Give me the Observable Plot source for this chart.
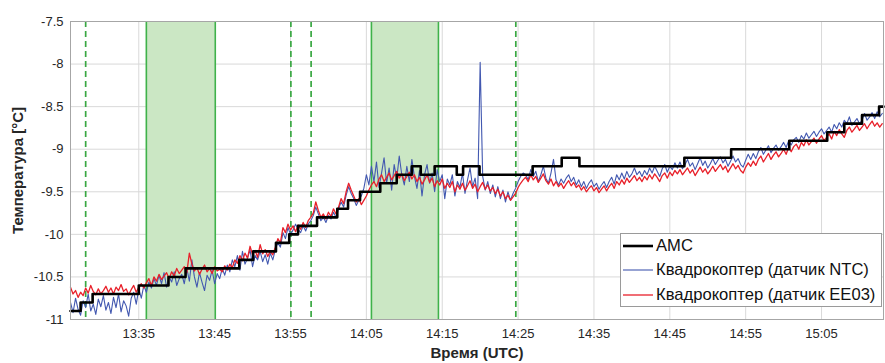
<!DOCTYPE html>
<html><head><meta charset="utf-8">
<script src="https://cdn.jsdelivr.net/npm/d3@7"></script>
<script src="https://cdn.jsdelivr.net/npm/@observablehq/plot@0.6"></script>
<style>
body{margin:0;background:#fff;font-family:"Liberation Sans",Arial,sans-serif;}
#wrap{position:relative;width:885px;height:363px;overflow:hidden}
#chart svg{display:block}
#chart g[aria-label="y-axis label"] text,#chart g[aria-label="x-axis label"] text{font-weight:bold;font-size:15px;fill:#262626}
.legend{position:absolute;left:620px;top:233px;width:262px;height:74px;border:1px solid #9a9a9a;background:#fff;box-sizing:border-box;padding:0 0 0 2px}
.row{display:flex;align-items:center;height:24.3px;font-size:16.6px;color:#111;white-space:nowrap}
.sw{width:30px;margin-right:3px}
</style>
</head><body>
<div id="wrap"><div id="chart"></div>
<div class="legend" id="legend"></div></div>
<script>
// ---- data ----
const xTickLabels = ["13:35","13:45","13:55","14:05","14:15","14:25","14:35","14:45","14:55","15:05"];
const yTickValues = [-11,-10.5,-10,-9.5,-9,-8.5,-8,-7.5];
const xDomain = ["13:26:00","15:13:10"];

const shadeStart = ["13:36:00","14:05:40"];
const shadeEnd   = ["13:45:05","14:14:30"];
const dashedTimes = ["13:28:00","13:55:03","13:57:43","14:24:42"];

// AMC step series
const amcTimes = ["13:26:00","13:27:20","13:28:55","13:35:00","13:38:55","13:41:10","13:48:15","13:50:05","13:53:05","13:54:50",
"13:56:00","13:58:30","14:01:10","14:02:35","14:04:10","14:06:50","14:09:00","14:11:00","14:12:10","14:14:00",
"14:16:55","14:17:45","14:19:55","14:26:55","14:30:45","14:33:05","14:46:55","14:53:05","15:00:45","15:05:45",
"15:08:00","15:10:20","15:12:35","15:13:10"];
const amcValues = [-10.9,-10.8,-10.7,-10.6,-10.5,-10.4,-10.3,-10.2,-10.1,-10.0,
-9.9,-9.8,-9.7,-9.6,-9.5,-9.4,-9.3,-9.2,-9.3,-9.2,
-9.3,-9.2,-9.3,-9.2,-9.1,-9.2,-9.1,-9.0,-8.9,-8.8,
-8.7,-8.6,-8.5,-8.5];

// Quadcopter samples, every 20 s from 13:26:00
const sampleStart = "13:26:00";
const sampleStepSeconds = 20;
const ntcValues = [
-10.80,-10.92,-10.75,-10.88,-10.95,-10.78,-10.86,-10.70,-10.90,-10.82,-10.94,-10.76,-10.85,-10.72,-10.89,
-10.80,-10.93,-10.74,-10.86,-10.70,-10.91,-10.78,-10.84,-10.96,-10.75,-10.68,-10.82,-10.64,-10.75,-10.60,
-10.68,-10.56,-10.63,-10.52,-10.60,-10.48,-10.58,-10.45,-10.62,-10.50,-10.56,-10.44,-10.60,-10.52,-10.47,
-10.58,-10.40,-10.55,-10.30,-10.50,-10.62,-10.45,-10.56,-10.66,-10.48,-10.54,-10.42,-10.58,-10.46,-10.52,
-10.40,-10.48,-10.36,-10.44,-10.30,-10.38,-10.25,-10.42,-10.20,-10.35,-10.28,-10.18,-10.38,-10.25,-10.30,
-10.20,-10.32,-10.24,-10.35,-10.22,-10.30,-10.18,-10.10,-10.15,-9.98,-10.05,-9.92,-10.00,-9.95,-9.88,
-9.94,-9.98,-9.90,-9.96,-9.88,-9.84,-9.78,-9.68,-9.76,-9.84,-9.80,-9.86,-9.78,-9.82,-9.74,
-9.80,-9.70,-9.62,-9.68,-9.54,-9.44,-9.52,-9.58,-9.66,-9.60,-9.55,-9.46,-9.30,-9.42,-9.20,
-9.38,-9.15,-9.45,-9.28,-9.10,-9.40,-9.22,-9.48,-9.18,-9.35,-9.08,-9.30,-9.42,-9.20,-9.38,
-9.12,-9.32,-9.46,-9.25,-9.55,-9.30,-9.18,-9.40,-9.28,-9.50,-9.24,-9.38,-9.30,-9.58,-9.35,
-9.42,-9.30,-9.55,-9.38,-9.45,-9.28,-9.52,-9.36,-9.22,-9.44,-9.34,-9.58,-7.98,-9.32,-9.48,
-9.38,-9.52,-9.42,-9.56,-9.44,-9.58,-9.48,-9.62,-9.50,-9.60,-9.52,-9.46,-9.38,-9.32,-9.28,
-9.30,-9.36,-9.24,-9.32,-9.26,-9.38,-9.30,-9.20,-9.34,-9.40,-9.28,-9.12,-9.36,-9.42,-9.35,
-9.40,-9.34,-9.30,-9.38,-9.33,-9.42,-9.36,-9.44,-9.38,-9.46,-9.40,-9.36,-9.44,-9.40,-9.47,
-9.42,-9.38,-9.45,-9.38,-9.33,-9.41,-9.30,-9.36,-9.28,-9.35,-9.26,-9.33,-9.29,-9.22,-9.30,
-9.26,-9.32,-9.25,-9.30,-9.22,-9.28,-9.20,-9.26,-9.32,-9.23,-9.18,-9.27,-9.20,-9.24,-9.16,
-9.22,-9.15,-9.23,-9.18,-9.12,-9.20,-9.16,-9.24,-9.17,-9.10,-9.19,-9.14,-9.22,-9.17,-9.11,
-9.18,-9.13,-9.09,-9.16,-9.12,-9.20,-9.14,-9.08,-9.15,-9.11,-9.18,-9.21,-9.13,-9.06,-9.12,
-9.05,-9.11,-9.03,-8.98,-9.06,-9.01,-8.96,-9.04,-8.99,-8.95,-9.01,-8.97,-8.92,-8.98,-8.90,
-8.95,-8.89,-8.86,-8.92,-8.84,-8.88,-8.81,-8.87,-8.83,-8.79,-8.85,-8.80,-8.76,-8.82,-8.78,
-8.74,-8.80,-8.71,-8.76,-8.69,-8.74,-8.66,-8.70,-8.62,-8.72,-8.68,-8.64,-8.70,-8.66,-8.58,
-8.66,-8.62,-8.57,-8.64,-8.56,-8.62,-8.58];
const ee03Values = [
-10.62,-10.70,-10.66,-10.74,-10.68,-10.72,-10.63,-10.69,-10.60,-10.67,-10.71,-10.64,-10.70,-10.66,-10.61,
-10.68,-10.63,-10.70,-10.62,-10.66,-10.59,-10.67,-10.64,-10.71,-10.65,-10.60,-10.68,-10.62,-10.58,-10.63,
-10.57,-10.52,-10.60,-10.50,-10.55,-10.47,-10.53,-10.49,-10.45,-10.52,-10.44,-10.49,-10.40,-10.46,-10.42,
-10.38,-10.45,-10.22,-10.35,-10.43,-10.39,-10.47,-10.41,-10.36,-10.44,-10.40,-10.46,-10.38,-10.43,-10.41,
-10.44,-10.37,-10.42,-10.35,-10.39,-10.30,-10.34,-10.25,-10.31,-10.22,-10.28,-10.14,-10.24,-10.19,-10.27,
-10.12,-10.23,-10.18,-10.26,-10.20,-10.24,-10.15,-10.05,-10.10,-9.92,-9.98,-9.88,-9.95,-9.90,-9.97,
-9.89,-9.94,-9.86,-9.92,-9.84,-9.80,-9.75,-9.62,-9.72,-9.80,-9.76,-9.82,-9.74,-9.79,-9.70,
-9.76,-9.68,-9.58,-9.64,-9.50,-9.40,-9.48,-9.55,-9.62,-9.58,-9.65,-9.60,-9.55,-9.48,-9.42,
-9.38,-9.44,-9.35,-9.30,-9.38,-9.33,-9.28,-9.36,-9.31,-9.26,-9.34,-9.29,-9.37,-9.32,-9.27,
-9.35,-9.30,-9.38,-9.33,-9.41,-9.36,-9.30,-9.39,-9.34,-9.44,-9.37,-9.42,-9.35,-9.46,-9.40,
-9.45,-9.38,-9.50,-9.42,-9.47,-9.40,-9.48,-9.43,-9.37,-9.46,-9.41,-9.50,-9.44,-9.39,-9.47,
-9.42,-9.49,-9.45,-9.52,-9.47,-9.55,-9.50,-9.58,-9.54,-9.60,-9.56,-9.52,-9.45,-9.40,-9.36,
-9.33,-9.38,-9.30,-9.36,-9.32,-9.39,-9.34,-9.29,-9.37,-9.41,-9.35,-9.43,-9.38,-9.44,-9.40,
-9.46,-9.41,-9.37,-9.43,-9.39,-9.45,-9.42,-9.48,-9.44,-9.50,-9.46,-9.43,-9.49,-9.45,-9.51,
-9.47,-9.43,-9.49,-9.44,-9.40,-9.46,-9.38,-9.42,-9.36,-9.41,-9.34,-9.39,-9.35,-9.31,-9.37,
-9.33,-9.38,-9.32,-9.36,-9.30,-9.35,-9.29,-9.33,-9.38,-9.31,-9.28,-9.34,-9.27,-9.31,-9.25,
-9.29,-9.24,-9.30,-9.26,-9.22,-9.28,-9.24,-9.31,-9.26,-9.21,-9.27,-9.23,-9.29,-9.25,-9.20,
-9.26,-9.22,-9.18,-9.24,-9.20,-9.27,-9.22,-9.17,-9.23,-9.19,-9.25,-9.28,-9.21,-9.16,-9.20,
-9.14,-9.19,-9.12,-9.08,-9.15,-9.10,-9.05,-9.12,-9.07,-9.03,-9.09,-9.05,-9.00,-9.06,-8.98,
-9.03,-8.97,-8.94,-9.00,-8.92,-8.96,-8.89,-8.95,-8.91,-8.87,-8.93,-8.88,-8.84,-8.90,-8.86,
-8.82,-8.88,-8.79,-8.84,-8.77,-8.82,-8.86,-8.78,-8.74,-8.80,-8.76,-8.72,-8.78,-8.74,-8.70,
-8.76,-8.71,-8.67,-8.73,-8.69,-8.74,-8.70];

const seriesNames = ["AMC","Квадрокоптер (датчик NTC)","Квадрокоптер (датчик EE03)"];
const seriesColors = ["#000000","#4258b0","#e8202a"];
const seriesWidths = [2.6,1.1,1.3];

// ---- build ----
const parse = d3.utcParse("%H:%M:%S");
const t0 = parse(sampleStart);
const amc = amcTimes.map((t,i)=>({t:parse(t), v:amcValues[i]}));
const ntc = ntcValues.map((v,i)=>({t:new Date(+t0 + i*sampleStepSeconds*1000), v}));
const ee03 = ee03Values.map((v,i)=>({t:new Date(+t0 + i*sampleStepSeconds*1000), v}));
const shades = shadeStart.map((s,i)=>({a:parse(s), b:parse(shadeEnd[i])}));
const shadeEdges = shadeStart.concat(shadeEnd).map(parse);
const dashed = dashedTimes.map(parse);
const xTicks = xTickLabels.map(s=>parse(s+":00"));

const plot = Plot.plot({
  width:885, height:363,
  marginLeft:70, marginRight:2, marginTop:21, marginBottom:44,
  style:{fontFamily:"'Liberation Sans', Arial, sans-serif", fontSize:"13px", color:"#262626", background:"#fff"},
  x:{type:"utc", domain:xDomain.map(parse)},
  y:{domain:[-11,-7.5]},
  marks:[
    Plot.gridX(xTicks,{stroke:"#d9d9d9", strokeOpacity:1}),
    Plot.gridY(yTickValues,{stroke:"#d9d9d9", strokeOpacity:1}),
    Plot.rect(shades,{x1:"a", x2:"b", fill:"#cbe7c4", fillOpacity:1}),
    Plot.ruleX(shadeEdges,{stroke:"#3fb24a", strokeWidth:1.6}),
    Plot.ruleX(dashed,{stroke:"#3aa843", strokeWidth:1.7, strokeDasharray:"6,4"}),
    Plot.line(ntc,{x:"t", y:"v", stroke:seriesColors[1], strokeWidth:seriesWidths[1]}),
    Plot.line(ee03,{x:"t", y:"v", stroke:seriesColors[2], strokeWidth:seriesWidths[2]}),
    Plot.line(amc,{x:"t", y:"v", stroke:seriesColors[0], strokeWidth:seriesWidths[0], curve:"step-after"}),
    Plot.frame({stroke:"#a6a6a6"}),
    Plot.axisX({ticks:xTicks, tickFormat:d3.utcFormat("%H:%M"), tickSize:0, tickPadding:9,
      label:"Время (UTC)", labelAnchor:"center", labelOffset:38, labelArrow:"none"}),
    Plot.axisY({ticks:yTickValues, tickFormat:d=>String(d), tickSize:0, tickPadding:7,
      label:"Температура [°C]", labelAnchor:"center", labelOffset:58, labelArrow:"none"})
  ]
});
document.getElementById("chart").appendChild(plot);

const leg = document.getElementById("legend");
seriesNames.forEach((n,i)=>{
  const r = document.createElement("div"); r.className="row";
  r.innerHTML = `<svg class="sw" width="30" height="6"><line x1="0" x2="30" y1="3" y2="3" stroke="${seriesColors[i]}" stroke-width="${seriesWidths[i]}"/></svg><span>${n}</span>`;
  leg.appendChild(r);
});
</script>
</body></html>
